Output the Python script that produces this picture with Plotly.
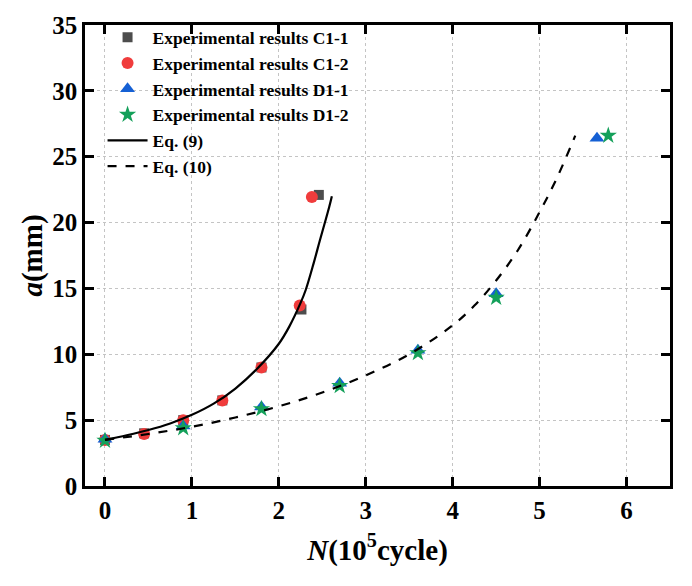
import plotly.graph_objects as go

# Experimental data (N in 10^5 cycles, a in mm)
c11_N = [0, 0.45, 0.9, 1.35, 1.8, 2.26, 2.46]
c11_a = [3.5, 4.0, 5.0, 6.5, 9.0, 13.4, 22.1]

c12_N = [0, 0.45, 0.9, 1.35, 1.8, 2.24, 2.38]
c12_a = [3.5, 3.95, 5.0, 6.5, 9.0, 13.7, 21.95]

d11_N = [0, 0.9, 1.8, 2.7, 3.6, 4.5, 5.66]
d11_a = [3.55, 4.55, 6.0, 7.8, 10.3, 14.6, 26.4]

d12_N = [0, 0.9, 1.8, 2.7, 3.6, 4.5, 5.79]
d12_a = [3.45, 4.4, 5.85, 7.6, 10.1, 14.3, 26.6]

# Curves
eq9_N = [0, 0.25, 0.5, 0.75, 1.0, 1.25, 1.5, 1.75, 2.0, 2.12, 2.25, 2.31, 2.4, 2.47, 2.53, 2.58, 2.61]
eq9_a = [3.5, 3.85, 4.25, 4.75, 5.4, 6.25, 7.4, 8.9, 10.8, 12.1, 13.9, 14.9, 16.9, 18.6, 20.0, 21.2, 22.0]

eq10_N = [0, 0.5, 1.0, 1.5, 2.0, 2.5, 3.0, 3.5, 4.0, 4.25, 4.5, 4.75, 5.0, 5.2, 5.41]
eq10_a = [3.5, 3.95, 4.5, 5.2, 6.05, 7.1, 8.4, 10.0, 12.2, 13.7, 15.6, 17.9, 20.8, 23.4, 26.6]

x_ticks = [0, 1, 2, 3, 4, 5, 6]
y_ticks = [0, 5, 10, 15, 20, 25, 30, 35]

FONT = "Liberation Serif"

fig = go.Figure()
fig.add_trace(go.Scatter(x=c11_N, y=c11_a, mode="markers", name="Experimental results C1-1",
                         marker=dict(symbol="square", size=10, color="#4d4d4d")))
fig.add_trace(go.Scatter(x=c12_N, y=c12_a, mode="markers", name="Experimental results C1-2",
                         marker=dict(symbol="circle", size=12, color="#f03c3c")))
fig.add_trace(go.Scatter(x=d11_N, y=d11_a, mode="markers", name="Experimental results D1-1",
                         marker=dict(symbol="triangle-up", size=13, color="#1560d4")))
fig.add_trace(go.Scatter(x=d12_N, y=d12_a, mode="markers", name="Experimental results D1-2",
                         marker=dict(symbol="star", size=13, color="#14a05a")))
fig.add_trace(go.Scatter(x=eq9_N, y=eq9_a, mode="lines", name="Eq. (9)",
                         line=dict(color="black", width=2.2, shape="spline")))
fig.add_trace(go.Scatter(x=eq10_N, y=eq10_a, mode="lines", name="Eq. (10)",
                         line=dict(color="black", width=2.2, dash="dash", shape="spline")))

axis_common = dict(
    showline=True, linecolor="black", linewidth=2.5, mirror="ticks",
    ticks="inside", ticklen=9, tickwidth=2.5, tickcolor="black",
    showgrid=True, gridcolor="#c4c4c4", gridwidth=1, griddash="dot",
    zeroline=False,
    tickfont=dict(family=FONT, size=25, color="black", weight="bold"),
)

fig.update_xaxes(range=[-0.23, 6.5], tickvals=x_ticks,
                 title=dict(text="<i>N</i>(10<sup>5</sup>cycle)",
                            font=dict(family=FONT, size=29, color="black", weight="bold"),
                            standoff=17),
                 **axis_common)
fig.update_yaxes(range=[0, 35], tickvals=y_ticks,
                 title=dict(text="<i>a</i>(mm)",
                            font=dict(family=FONT, size=29, color="black", weight="bold"),
                            standoff=2),
                 **axis_common)

fig.update_layout(
    width=692, height=586,
    margin=dict(l=85, r=22, t=15, b=100),
    paper_bgcolor="white", plot_bgcolor="white",
    showlegend=True,
    legend=dict(x=0.03, y=1.012, xanchor="left", yanchor="top",
                bgcolor="rgba(0,0,0,0)", borderwidth=0,
                font=dict(family=FONT, size=17.5, color="black", weight="bold"),
                tracegroupgap=0, itemwidth=40),
)

fig.write_html("out.html")
